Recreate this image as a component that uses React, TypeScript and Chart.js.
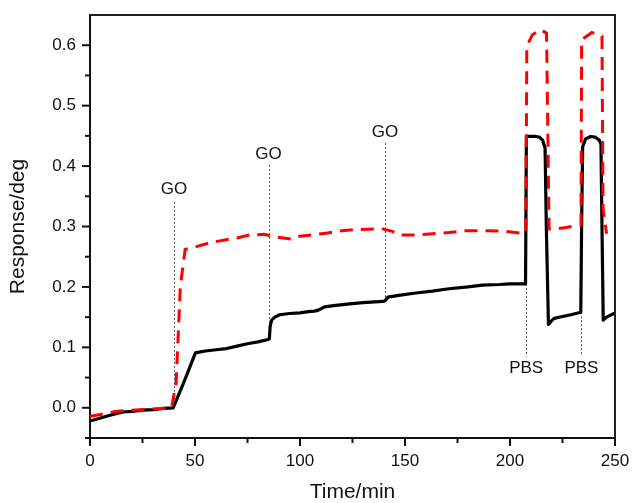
import React, { useEffect, useRef } from 'react';
import { Chart, registerables } from 'chart.js';

Chart.register(...registerables);

// ---- data ----
const blackX = [0, 5, 10, 15.8, 20, 25, 30, 35, 39.6, 45, 50.2, 52, 55, 60, 65, 70, 75, 80, 84.8, 85.4, 85.8, 86.5, 88, 90.3, 95, 100, 104, 107, 109, 111.7, 116, 123.6, 130, 139.4, 140.5, 141.8, 147, 155.2, 163, 171, 180, 186.8, 195, 200, 207.4, 207.8, 212.3, 214, 215.5, 216.7, 217.3, 218.3, 219.5, 221, 225, 229, 233.7, 234.1, 234.6, 236, 238.4, 240.5, 242.5, 243.3, 243.8, 244.4, 246, 250];
const blackY = [-0.022, -0.017, -0.012, -0.007, -0.006, -0.004, -0.003, -0.001, 0.0, 0.045, 0.091, 0.092, 0.094, 0.096, 0.098, 0.102, 0.106, 0.109, 0.113, 0.114, 0.135, 0.145, 0.15, 0.154, 0.156, 0.157, 0.159, 0.16, 0.162, 0.167, 0.169, 0.172, 0.174, 0.176, 0.177, 0.183, 0.186, 0.19, 0.193, 0.197, 0.2, 0.203, 0.204, 0.205, 0.205, 0.449, 0.449, 0.448, 0.443, 0.43, 0.3, 0.138, 0.143, 0.148, 0.151, 0.154, 0.158, 0.3, 0.432, 0.445, 0.449, 0.448, 0.443, 0.437, 0.3, 0.145, 0.15, 0.157];

const redX = [0, 5, 12, 20, 30, 38.8, 41, 43, 45.3, 50, 57, 63, 70, 76, 83, 88, 96, 100, 106, 112.5, 120, 126.8, 139.4, 144, 147.3, 155, 163, 171, 179, 190, 198, 205, 207.6, 208, 210.6, 214.5, 217.4, 218.6, 222, 226, 231.3, 233.8, 234.1, 239, 243.8, 244.3, 246];
const redY = [-0.014, -0.011, -0.006, -0.004, -0.002, 0.0, 0.04, 0.2, 0.262, 0.266, 0.273, 0.277, 0.281, 0.286, 0.287, 0.283, 0.279, 0.284, 0.286, 0.289, 0.293, 0.295, 0.296, 0.292, 0.286, 0.286, 0.288, 0.29, 0.293, 0.293, 0.292, 0.289, 0.29, 0.598, 0.617, 0.626, 0.62, 0.296, 0.296, 0.298, 0.301, 0.302, 0.609, 0.621, 0.615, 0.33, 0.288];

const xMajorTicks = [0, 50, 100, 150, 200, 250];
const xMinorTicks = [25, 75, 125, 175, 225];
const yMajorTicks = [0, 0.1, 0.2, 0.3, 0.4, 0.5, 0.6];
const yMinorTicks = [-0.05, 0.05, 0.15, 0.25, 0.35, 0.45, 0.55];

const goLabels = ['GO', 'GO', 'GO'];
const goX = [40, 85, 140.5];
const goTop = [0.341, 0.402, 0.438];
const goBottom = [0.0, 0.113, 0.177];
const goLabelY = [0.361, 0.42, 0.456];

const pbsLabels = ['PBS', 'PBS'];
const pbsX = [207.7, 234];
const pbsTop = [0.205, 0.158];
const pbsBottom = [0.085, 0.085];
const pbsLabelY = [0.066, 0.066];

const FONT = "'Liberation Sans', Arial, Helvetica, sans-serif";

const zip = (xs: number[], ys: number[]) => xs.map((x, i) => ({ x, y: ys[i] }));

const framePlugin = {
  id: 'framePlugin',
  beforeDatasetsDraw(chart: any) {
    const { ctx, scales } = chart;
    const xs = scales.x;
    const ys = scales.y;
    ctx.save();
    ctx.strokeStyle = '#555';
    ctx.lineWidth = 1;
    ctx.setLineDash([2, 2]);
    const drawMark = (x: number, y1: number, y2: number) => {
      const px = Math.round(xs.getPixelForValue(x)) + 0.5;
      ctx.beginPath();
      ctx.moveTo(px, ys.getPixelForValue(y1));
      ctx.lineTo(px, ys.getPixelForValue(y2));
      ctx.stroke();
    };
    goX.forEach((x, i) => drawMark(x, goTop[i], goBottom[i]));
    pbsX.forEach((x, i) => drawMark(x, pbsTop[i], pbsBottom[i]));
    ctx.setLineDash([]);
    ctx.fillStyle = '#111';
    ctx.font = `17px ${FONT}`;
    ctx.textAlign = 'center';
    ctx.textBaseline = 'middle';
    goX.forEach((x, i) => ctx.fillText(goLabels[i], xs.getPixelForValue(x), ys.getPixelForValue(goLabelY[i])));
    pbsX.forEach((x, i) => ctx.fillText(pbsLabels[i], xs.getPixelForValue(x), ys.getPixelForValue(pbsLabelY[i])));
    ctx.restore();
  },
  afterDraw(chart: any) {
    const { ctx, chartArea, scales } = chart;
    const xs = scales.x;
    const ys = scales.y;
    ctx.save();
    ctx.strokeStyle = '#222';
    ctx.lineWidth = 2;
    ctx.beginPath();
    ctx.moveTo(chartArea.left, chartArea.top);
    ctx.lineTo(chartArea.right, chartArea.top);
    ctx.lineTo(chartArea.right, chartArea.bottom);
    ctx.stroke();
    ctx.strokeStyle = '#111';
    ctx.lineWidth = 2;
    const b = chartArea.bottom;
    const l = chartArea.left;
    xMajorTicks.forEach((v) => {
      const p = xs.getPixelForValue(v);
      ctx.beginPath(); ctx.moveTo(p, b); ctx.lineTo(p, b + 8); ctx.stroke();
    });
    xMinorTicks.forEach((v) => {
      const p = xs.getPixelForValue(v);
      ctx.beginPath(); ctx.moveTo(p, b); ctx.lineTo(p, b + 5); ctx.stroke();
    });
    yMajorTicks.forEach((v) => {
      const p = ys.getPixelForValue(v);
      ctx.beginPath(); ctx.moveTo(l, p); ctx.lineTo(l - 8, p); ctx.stroke();
    });
    yMinorTicks.forEach((v) => {
      const p = ys.getPixelForValue(v);
      ctx.beginPath(); ctx.moveTo(l, p); ctx.lineTo(l - 5, p); ctx.stroke();
    });
    ctx.restore();
  },
};

export default function App() {
  const canvasRef = useRef<HTMLCanvasElement | null>(null);

  useEffect(() => {
    document.body.style.margin = '0';
    const canvas = canvasRef.current;
    if (!canvas) return;
    const chart = new Chart(canvas, {
      type: 'scatter',
      data: {
        datasets: [
          {
            data: zip(redX, redY),
            showLine: true,
            borderColor: '#ff0000',
            borderWidth: 3,
            borderDash: [13, 8],
            borderCapStyle: 'butt',
            pointRadius: 0,
            tension: 0,
            order: 0,
          },
          {
            data: zip(blackX, blackY),
            showLine: true,
            borderColor: '#000000',
            borderWidth: 3.2,
            borderJoinStyle: 'round',
            pointRadius: 0,
            tension: 0,
            order: 1,
          },
        ],
      },
      options: {
        animation: false,
        responsive: true,
        maintainAspectRatio: false,
        layout: { padding: { top: 15, right: 17, left: 0, bottom: 0 } },
        plugins: { legend: { display: false }, tooltip: { enabled: false } },
        scales: {
          x: {
            type: 'linear',
            min: 0,
            max: 250,
            grid: { display: false, drawTicks: false },
            border: { display: true, color: '#111', width: 2 },
            afterBuildTicks: (scale: any) => {
              scale.ticks = xMajorTicks.map((v) => ({ value: v }));
            },
            afterFit: (scale: any) => {
              scale.height = 65;
              scale.paddingLeft = 0;
              scale.paddingRight = 0;
            },
            ticks: {
              padding: 13,
              color: '#111',
              font: { family: FONT, size: 17 },
              maxRotation: 0,
              callback: (v: any) => String(v),
            },
            title: {
              display: true,
              text: 'Time/min',
              color: '#111',
              font: { family: FONT, size: 21 },
              padding: { top: 0, bottom: -2 },
            },
          },
          y: {
            type: 'linear',
            min: -0.05,
            max: 0.65,
            grid: { display: false, drawTicks: false },
            border: { display: true, color: '#111', width: 2 },
            afterBuildTicks: (scale: any) => {
              scale.ticks = yMajorTicks.map((v) => ({ value: v }));
            },
            afterFit: (scale: any) => {
              scale.width = 90;
              scale.paddingTop = 0;
              scale.paddingBottom = 0;
            },
            ticks: {
              padding: 14,
              color: '#111',
              font: { family: FONT, size: 17 },
              callback: (v: any) => Number(v).toFixed(1),
            },
            title: {
              display: true,
              text: 'Response/deg',
              color: '#111',
              font: { family: FONT, size: 21 },
              padding: { top: 6, bottom: 0 },
            },
          },
        },
      },
      plugins: [framePlugin],
    });
    return () => chart.destroy();
  }, []);

  return (
    <div style={{ width: 632, height: 503, position: 'relative' }}>
      <canvas ref={canvasRef} />
    </div>
  );
}
